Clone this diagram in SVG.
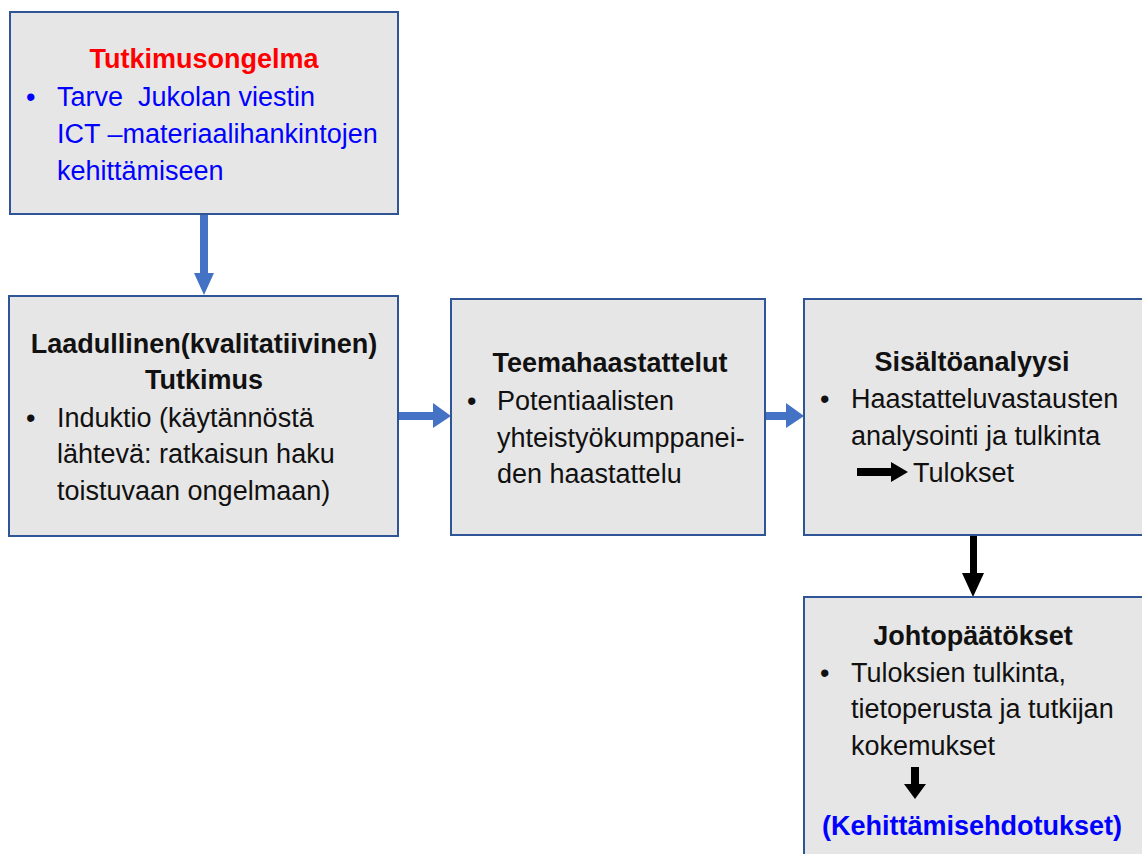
<svg xmlns="http://www.w3.org/2000/svg" width="1142" height="854" viewBox="0 0 1142 854">
<style>
.box{fill:#e7e6e6;stroke:#2f5597;stroke-width:2}
text{font-family:"Liberation Sans",Arial,sans-serif;font-size:27px;fill:#111}
.t{font-weight:bold;text-anchor:middle}
.blue{fill:#0000ff}
.red{fill:#ff0000}
.ba{fill:#4472c4}
.bk{fill:#000}
</style>
<rect width="1142" height="854" fill="#fff"/>
<g id="connectors">
<polygon class="ba" points="200,214 208,214 208,273 214,273 204,295 194,273 200,273"/>
<polygon class="ba" points="398,412 433,412 433,403 451,416 433,428 433,420 398,420"/>
<polygon class="ba" points="765,412 786,412 786,403 804,416 786,428 786,420 765,420"/>
<polygon class="bk" points="970,536 977,536 977,573 984,573 973,597 962,573 970,573"/>
</g>
<g id="n1">
<rect class="box" x="10" y="12" width="388" height="202"/>
<text class="t red" x="204" y="68">Tutkimusongelma</text>
<text class="blue" x="26" y="106">•</text>
<text class="blue" x="57" y="106" xml:space="preserve">Tarve  Jukolan viestin</text>
<text class="blue" x="57" y="143">ICT –materiaalihankintojen</text>
<text class="blue" x="57" y="180">kehittämiseen</text>
</g>
<g id="n2">
<rect class="box" x="9" y="296" width="389" height="240"/>
<text class="t" x="204" y="353">Laadullinen(kvalitatiivinen)</text>
<text class="t" x="204" y="389">Tutkimus</text>
<text x="26" y="427">•</text>
<text x="57" y="427">Induktio (käytännöstä</text>
<text x="57" y="463">lähtevä: ratkaisun haku</text>
<text x="57" y="500">toistuvaan ongelmaan)</text>
</g>
<g id="n3">
<rect class="box" x="451" y="299" width="314" height="236"/>
<text class="t" x="610" y="372">Teemahaastattelut</text>
<text x="467" y="410">•</text>
<text x="497" y="410">Potentiaalisten</text>
<text x="497" y="447">yhteistyökumppanei-</text>
<text x="497" y="483">den haastattelu</text>
</g>
<g id="n4">
<rect class="box" x="804" y="299" width="340" height="236"/>
<text class="t" x="972" y="371">Sisältöanalyysi</text>
<text x="820" y="408">•</text>
<text x="851" y="408">Haastatteluvastausten</text>
<text x="851" y="445">analysointi ja tulkinta</text>
<polygon class="bk" points="857,468 891,468 891,462 908,472 891,482 891,476 857,476"/>
<text x="913" y="482">Tulokset</text>
</g>
<g id="n5">
<rect class="box" x="804" y="597" width="340" height="262"/>
<text class="t" x="973" y="645">Johtopäätökset</text>
<text x="820" y="682">•</text>
<text x="851" y="682">Tuloksien tulkinta,</text>
<text x="851" y="718">tietoperusta ja tutkijan</text>
<text x="851" y="755">kokemukset</text>
<polygon class="bk" points="911,767 919,767 919,784 926,784 915,799 904,784 911,784"/>
<text class="t blue" x="972" y="835">(Kehittämisehdotukset)</text>
</g>
</svg>
